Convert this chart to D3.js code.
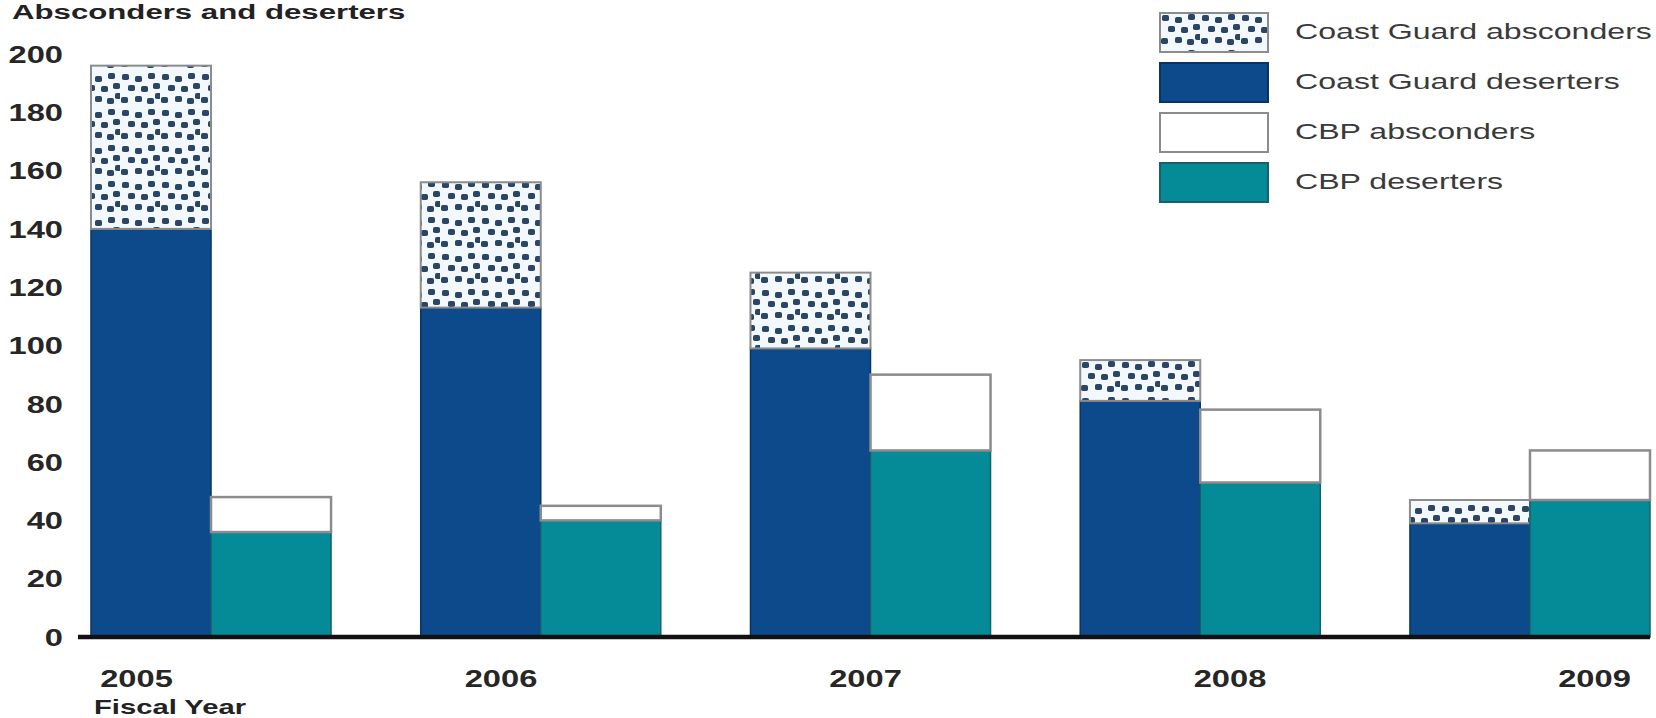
<!DOCTYPE html>
<html>
<head>
<meta charset="utf-8">
<script src="https://cdn.jsdelivr.net/npm/d3@7"></script>
<style>
  html, body { margin: 0; padding: 0; background: #ffffff; }
  svg { display: block; }
  text { font-family: "Liberation Sans", Arial, Helvetica, sans-serif; }
</style>
</head>
<body>
<svg id="chart" width="1656" height="718"></svg>
<script>
// ---- data ----
const years = ["2005", "2006", "2007", "2008", "2009"];
const cgDeserters   = [140, 113, 99, 81, 39];
const cgAbsconders  = [56, 43, 26, 14, 8];
const cbpDeserters  = [36, 40, 64, 53, 47];
const cbpAbsconders = [12, 5, 26, 25, 17];
const yTicks = [0, 20, 40, 60, 80, 100, 120, 140, 160, 180, 200];
const legendLabels = ["Coast Guard absconders", "Coast Guard deserters", "CBP absconders", "CBP deserters"];
const titleText = "Absconders and deserters";
const xTitle = "Fiscal Year";

// ---- styles ----
const NAVY = "#0c4a8c", NAVY_EDGE = "#0a3463";
const TEAL = "#058a98", TEAL_EDGE = "#17616d";
const GREY_EDGE = "#8c8c8c";
const SX = 1.42; // horizontal stretch of the original typography

const svg = d3.select("#chart");

// dotted pattern
const defs = svg.append("defs");
const pat = defs.append("pattern")
  .attr("id", "dots").attr("patternUnits", "userSpaceOnUse")
  .attr("width", 40).attr("height", 36);
pat.append("rect").attr("width", 40).attr("height", 36).attr("fill", "#f3f8fc");
[[2,2],[15,4],[28,1],[8,13],[21,14],[33,11],[1,25],[15,24],[27,26],[35,21]].forEach(([dx,dy]) => {
  pat.append("rect").attr("x", dx).attr("y", dy).attr("width", 7).attr("height", 6)
    .attr("rx", 1.8).attr("fill", "#2b4565");
});

// ---- scales ----
const y = d3.scaleLinear().domain([0, 200]).range([637, 54]);
const x = d3.scaleBand().domain(years).range([91, 1650]).paddingInner(0.272).paddingOuter(0);
const xSub = d3.scaleBand().domain(["cg", "cbp"]).range([0, x.bandwidth()]).padding(0);
const xLabel = d3.scalePoint().domain(years).range([136, 1594]);

// ---- bars ----
const g = svg.append("g");
years.forEach((yr, i) => {
  const x0 = x(yr);
  const w = xSub.bandwidth();
  g.append("rect").attr("x", x0 + xSub("cg")).attr("y", y(cgDeserters[i]))
    .attr("width", w).attr("height", y(0) - y(cgDeserters[i]))
    .attr("fill", NAVY).attr("stroke", NAVY_EDGE).attr("stroke-width", 1.5);
  const topCg = cgDeserters[i] + cgAbsconders[i];
  g.append("rect").attr("x", x0 + xSub("cg")).attr("y", y(topCg))
    .attr("width", w).attr("height", y(cgDeserters[i]) - y(topCg))
    .attr("fill", "url(#dots)").attr("stroke", GREY_EDGE).attr("stroke-width", 2);
  g.append("rect").attr("x", x0 + xSub("cbp")).attr("y", y(cbpDeserters[i]))
    .attr("width", w).attr("height", y(0) - y(cbpDeserters[i]))
    .attr("fill", TEAL).attr("stroke", TEAL_EDGE).attr("stroke-width", 1.5);
  const topCbp = cbpDeserters[i] + cbpAbsconders[i];
  g.append("rect").attr("x", x0 + xSub("cbp")).attr("y", y(topCbp))
    .attr("width", w).attr("height", y(cbpDeserters[i]) - y(topCbp))
    .attr("fill", "#ffffff").attr("stroke", GREY_EDGE).attr("stroke-width", 2.5);
});

// baseline
svg.append("line").attr("x1", 78).attr("x2", 1650)
  .attr("y1", y(0)).attr("y2", y(0))
  .attr("stroke", "#111").attr("stroke-width", 4.5);

// ---- y axis ----
const yAxis = svg.append("g").attr("transform", "translate(63,0)")
  .call(d3.axisLeft(y).tickValues(yTicks).tickSize(0).tickPadding(0).tickFormat(d3.format("d")));
yAxis.select(".domain").remove();
yAxis.selectAll("text")
  .attr("x", 0).attr("dy", "0.36em")
  .attr("transform", `scale(${SX},1)`)
  .attr("font-size", 23).attr("font-weight", "bold").attr("fill", "#262626")
  .attr("font-family", "'Liberation Sans', Arial, sans-serif");

// ---- x axis (year labels) ----
const xAxis = svg.append("g").attr("transform", "translate(0,687)")
  .call(d3.axisBottom(xLabel).tickSize(0).tickPadding(0));
xAxis.select(".domain").remove();
xAxis.selectAll("text")
  .attr("y", 0).attr("dy", 0)
  .attr("transform", `scale(${SX},1)`)
  .attr("font-size", 23).attr("font-weight", "bold").attr("fill", "#262626")
  .attr("font-family", "'Liberation Sans', Arial, sans-serif");

// ---- titles ----
svg.append("text").attr("transform", `translate(12,19) scale(1.56,1)`)
  .attr("font-size", 20).attr("font-weight", "bold").attr("fill", "#222")
  .text(titleText);
svg.append("text").attr("transform", `translate(94,714) scale(1.46,1)`)
  .attr("font-size", 20).attr("font-weight", "bold").attr("fill", "#222")
  .text(xTitle);

// ---- legend ----
const leg = svg.append("g").attr("transform", "translate(1160,13)");
const legFill = ["url(#dots)", NAVY, "#ffffff", TEAL];
const legStroke = [GREY_EDGE, NAVY_EDGE, GREY_EDGE, TEAL_EDGE];
legendLabels.forEach((lab, i) => {
  leg.append("rect").attr("x", 0).attr("y", i * 50).attr("width", 108).attr("height", 39)
    .attr("fill", legFill[i]).attr("stroke", legStroke[i]).attr("stroke-width", 2);
  leg.append("text").attr("transform", `translate(135,${i * 50 + 26}) scale(1.46,1)`)
    .attr("font-size", 22).attr("fill", "#3a3a3a")
    .text(lab);
});
</script>
</body>
</html>
